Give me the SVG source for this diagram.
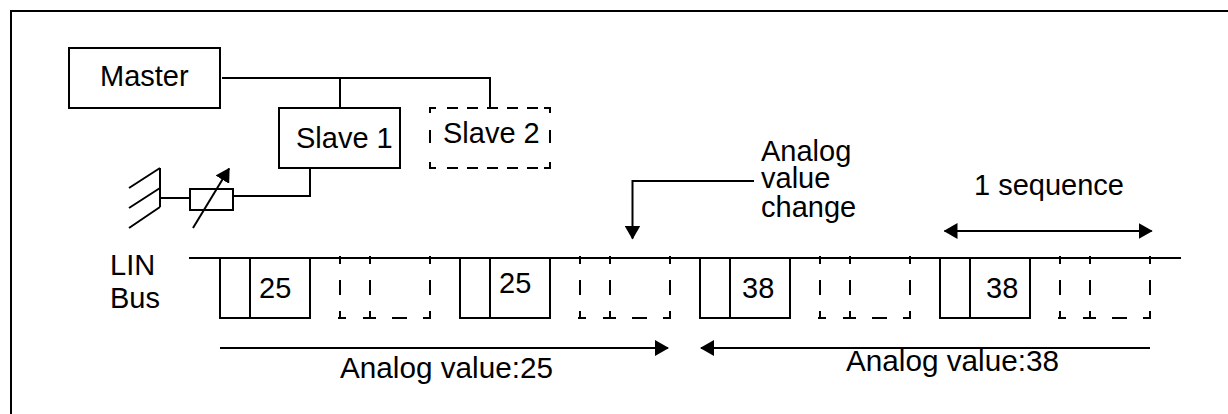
<svg xmlns="http://www.w3.org/2000/svg" width="1228" height="414" viewBox="0 0 1228 414">
<defs>
<marker id="a" markerUnits="userSpaceOnUse" markerWidth="14" markerHeight="16" refX="13" refY="8" orient="auto-start-reverse"><path d="M0 0L14 8L0 16Z" fill="#000"/></marker>
<path id="dash" d="M0 256V264M0 280V295M0 311V318M30 256V264M30 280V295M30 311V318M90 256V264M90 280V295M90 311V318M-2 318H6M23 318H36M52 318H67M83 318H91"/>
<path id="solid" d="M0 258V318H90V258M30 258V318"/>
</defs>
<style>
.l{fill:none;stroke:#000;stroke-width:2}
.t{font-family:"Liberation Sans",Arial,sans-serif;font-size:29px;fill:#000}
.w{font-size:29.7px}
</style>
<rect width="1228" height="414" fill="#fff"/>
<path class="l" d="M11 414V11H1228"/>
<g id="connectors">
<path class="l" d="M222 78H490V108M340 78V108M310 168V197M310 196H233M160 198H190"/>
<path class="l" d="M193 228L229.1 168.6" marker-end="url(#a)"/>
<path class="l" d="M189 258H1181"/>
<path class="l" d="M754 181H632.5V238.5" marker-end="url(#a)"/>
<path class="l" d="M944.5 231H1151.7" marker-start="url(#a)" marker-end="url(#a)"/>
<path class="l" d="M220 348H668" marker-end="url(#a)"/>
<path class="l" d="M1150 348H701" marker-end="url(#a)"/>
</g>
<g id="master"><rect class="l" x="69" y="48" width="151" height="60"/><text class="t" x="100" y="86">Master</text></g>
<g id="slave1"><rect class="l" x="279" y="108" width="121" height="60"/><text class="t" x="296" y="148">Slave 1</text></g>
<g id="slave2"><path class="l" d="M436 108H430V113M447 108H458M467 108H478M487 108H498M507 108H518M527 108H538M544 108H550V113M430 130V143M550 130V143M430 162V168H436M447 168H458M467 168H478M487 168H498M507 168H518M527 168H538M544 168H550V162"/><text class="t" x="443" y="143">Slave 2</text></g>
<g id="ground"><path class="l" d="M160 168V207M160 168L129 188M160 188L129 208M160 207L129 228"/></g>
<g id="resistor"><rect class="l" x="190" y="189" width="43" height="21"/></g>
<g id="analog-change"><text class="t" x="761" y="161">Analog</text><text class="t" x="761" y="188">value</text><text class="t" x="761" y="217">change</text></g>
<text class="t" x="974" y="195">1 sequence</text>
<g id="lin-bus"><text class="t" x="110" y="275">LIN</text><text class="t" x="110" y="308">Bus</text></g>
<g id="frame1"><use class="l" href="#solid" x="220"/><text class="t" x="259" y="298">25</text></g>
<use class="l" href="#dash" x="340"/>
<g id="frame2"><use class="l" href="#solid" x="460"/><text class="t" x="499" y="293">25</text></g>
<use class="l" href="#dash" x="580"/>
<g id="frame3"><use class="l" href="#solid" x="700"/><text class="t" x="742" y="298">38</text></g>
<use class="l" href="#dash" x="820"/>
<g id="frame4"><use class="l" href="#solid" x="940"/><text class="t" x="986" y="298">38</text></g>
<use class="l" href="#dash" x="1060"/>
<text class="t w" x="340" y="378">Analog value:25</text>
<text class="t w" x="846" y="371">Analog value:38</text>
</svg>
